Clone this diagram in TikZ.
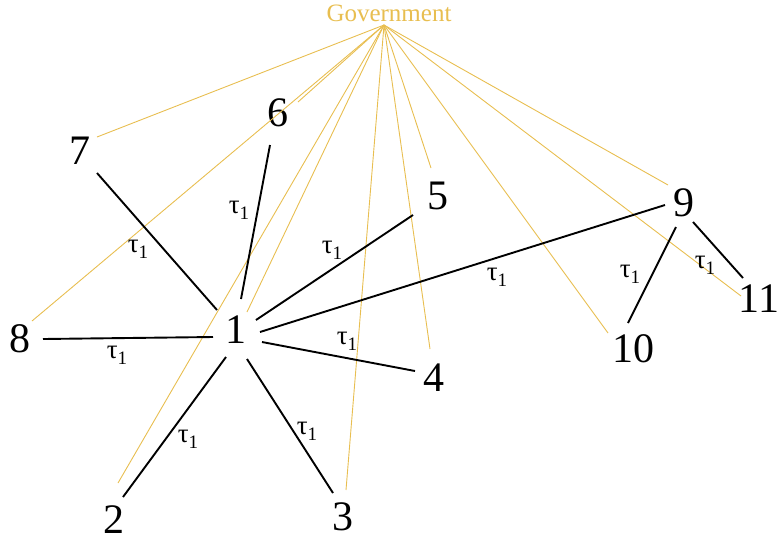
\documentclass[tikz,border=0pt]{standalone}
\usepackage{fontspec}
\setmainfont{Liberation Serif}
\definecolor{gold}{RGB}{232,190,80}
\newcommand\tauone{τ\raisebox{-6pt}{\fontsize{19}{19}\selectfont 1}}
\begin{document}
\begin{tikzpicture}[x=1pt,y=-1pt,
  num/.style={inner sep=0pt, font=\fontsize{42}{42}\selectfont},
  lab/.style={inner sep=0pt, font=\fontsize{27}{27}\selectfont},
  edge/.style={line width=1.9pt, black},
  gline/.style={line width=0.9pt, gold}]
\useasboundingbox (0,0) rectangle (778,542);
% nodes
\node[inner sep=0pt, text=gold, font=\fontsize{25}{25}\selectfont] (govlab) at (389,13) {Government};
\coordinate (gov) at (384,25);
\node[num] (n1) at (236,330) {1};
\node[num] (n2) at (114,520) {2};
\node[num] (n3) at (343,517) {3};
\node[num] (n4) at (434,378) {4};
\node[num] (n5) at (438,196) {5};
\node[num] (n6) at (278,113) {6};
\node[num] (n7) at (80,151) {7};
\node[num] (n8) at (20,339) {8};
\node[num] (n9) at (684,203) {9};
\node[num] (n10) at (633,349) {10};
\node[num] (n11) at (759,299) {11};
% government lines
\draw[gline] (gov) -- ([shift={(17,-14)}]n7.center);
\draw[gline] (gov) -- ([shift={(20,-11)}]n6.center);
\draw[gline] (gov) -- ([shift={(12,-18)}]n8.center);
\draw[gline] (gov) -- ([shift={(11,-18)}]n1.center);
\draw[gline] (gov) -- ([shift={(4,-37)}]n2.center);
\draw[gline] (gov) -- ([shift={(3,-27)}]n3.center);
\draw[gline] (gov) -- ([shift={(-4,-29)}]n4.center);
\draw[gline] (gov) -- ([shift={(-7,-28)}]n5.center);
\draw[gline] (gov) -- ([shift={(-25,-16)}]n10.center);
\draw[gline] (gov) -- ([shift={(-16,-18)}]n9.center);
\draw[gline] (gov) -- ([shift={(-18,-3)}]n11.center);
% edges
\draw[edge] ([shift={(-19,-20)}]n1.center) -- ([shift={(17,22)}]n7.center);
\draw[edge] ([shift={(5,-31)}]n1.center) -- ([shift={(-8,32)}]n6.center);
\draw[edge] ([shift={(20,-10)}]n1.center) -- ([shift={(-25,19)}]n5.center);
\draw[edge] ([shift={(24,2)}]n1.center) -- ([shift={(-19,2)}]n9.center);
\draw[edge] ([shift={(-23,7)}]n1.center) -- ([shift={(23,0)}]n8.center);
\draw[edge] ([shift={(26,12)}]n1.center) -- ([shift={(-19,-7)}]n4.center);
\draw[edge] ([shift={(-10,27)}]n1.center) -- ([shift={(9,-23)}]n2.center);
\draw[edge] ([shift={(11,29)}]n1.center) -- ([shift={(-10,-24)}]n3.center);
\draw[edge] ([shift={(-8,24)}]n9.center) -- ([shift={(-5,-26)}]n10.center);
\draw[edge] ([shift={(9,19)}]n9.center) -- ([shift={(-16,-21)}]n11.center);
% labels
\node[lab] (l17) at (138,249) {\tauone};
\node[lab] (l16) at (239,210) {\tauone};
\node[lab] (l15) at (332,250) {\tauone};
\node[lab] (l19) at (497,277) {\tauone};
\node[lab] (l18) at (117,355) {\tauone};
\node[lab] (l14) at (347,341) {\tauone};
\node[lab] (l12) at (188,439) {\tauone};
\node[lab] (l13) at (307,431) {\tauone};
\node[lab] (l910) at (630,274) {\tauone};
\node[lab] (l911) at (705,265) {\tauone};
\end{tikzpicture}
\end{document}
